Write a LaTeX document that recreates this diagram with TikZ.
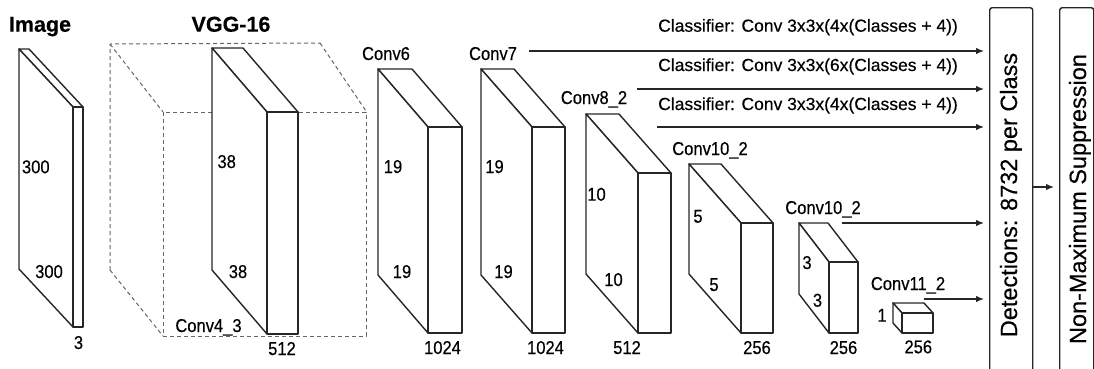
\documentclass[tikz,border=0pt]{standalone}
\usepackage{fontspec}
\setmainfont{Liberation Sans}[FakeBold=0.4]
\newfontfamily\narrowsans[FakeStretch=0.89,FakeBold=0.4]{Liberation Sans}
\usetikzlibrary{arrows.meta}
% cuboid: front x1, x2, top y, bottom y (pixels, downwards), depth dx, dy
\newcommand{\cuboid}[6]{%
  \filldraw[box] ({#1},{-#3}) -- ({#1-#5},{-#3+#6}) -- ({#2-#5},{-#3+#6}) -- ({#2},{-#3}) -- cycle;
  \filldraw[box] ({#1},{-#3}) -- ({#1-#5},{-#3+#6}) -- ({#1-#5},{-#4+#6}) -- ({#1},{-#4}) -- cycle;
  \filldraw[box] ({#1},{-#4}) rectangle ({#2},{-#3});}
\tikzset{
  box/.style={draw=black!85, line width=1.4pt, fill=white, line join=round},
  ghost/.style={draw=black!60, line width=1pt, dash pattern=on 4pt off 3pt},
  lbl/.style={inner sep=0pt, anchor=base, font=\narrowsans\fontsize{18.6}{20}\selectfont},
  ttl/.style={inner sep=0pt, anchor=base, font=\fontsize{21.5}{24}\selectfont\bfseries},
  cls/.style={inner sep=0pt, anchor=base west, font=\fontsize{17.5}{20}\selectfont},
  arr/.style={draw=black!85, line width=1.3pt, -{Latex[length=8pt,width=6.5pt]}, shorten >=5pt},
  panel/.style={draw=black!85, line width=1.4pt, rounded corners=2.5pt, inner sep=0pt, anchor=north west},
  vtxt/.style={rotate=90, inner sep=0pt, anchor=base, font=\fontsize{23.5}{26}\selectfont},
}
\begin{document}
\begin{tikzpicture}[x=1pt,y=1pt]
\useasboundingbox (0,0) rectangle (1094,-368);
\clip (0,0) rectangle (1094,-368);

% titles
\node[ttl] (timage) at (40,-31.7) {Image};
\node[ttl] (tvgg) at (231,-31.7) {VGG-16};

% input image slab
\cuboid{73}{83}{107}{327}{54}{58}

% dashed VGG cube
\draw[ghost] (110,-270) -- (110,-44) -- (320,-43);
\draw[ghost] (110,-44) -- (163,-112);
\draw[ghost] (320,-43) -- (366,-111);
\draw[ghost] (110,-270) -- (163,-336);
\draw[ghost] (163,-112) rectangle (366,-336);

% feature maps
\cuboid{267}{298}{112}{334}{55}{64}
\cuboid{428}{462}{127}{333}{50}{58}
\cuboid{532}{565}{127}{333}{51}{58}
\cuboid{638}{671}{173}{333}{52}{59}
\cuboid{741}{773}{223}{333}{52}{59}
\cuboid{829}{858}{262}{333}{30}{39}
\cuboid{902}{933}{313}{333}{9}{10}

% layer names
\node[lbl] (lc43) at (208.5,-332) {Conv4\_3};
\node[lbl] (lc6) at (386,-60) {Conv6};
\node[lbl] (lc7) at (493,-60) {Conv7};
\node[lbl] (lc82) at (594,-104) {Conv8\_2};
\node[lbl] (lc102a) at (710,-155) {Conv10\_2};
\node[lbl] (lc102b) at (823,-214) {Conv10\_2};
\node[lbl] (lc112) at (908,-290) {Conv11\_2};

% dimension labels
\node[lbl] (n1) at (35.8,-173.3) {300};
\node[lbl] (n2) at (49,-278) {300};
\node[lbl] (n3) at (78.5,-349) {3};
\node[lbl] (n4) at (226.7,-168) {38};
\node[lbl] (n5) at (238,-278) {38};
\node[lbl] (n6) at (282,-355) {512};
\node[lbl] (n7) at (393,-173) {19};
\node[lbl] (n8) at (402,-278) {19};
\node[lbl] (n9) at (442.5,-354) {1024};
\node[lbl] (n10) at (494.5,-173) {19};
\node[lbl] (n11) at (503.5,-278) {19};
\node[lbl] (n12) at (545.5,-354) {1024};
\node[lbl] (n13) at (596.5,-200.7) {10};
\node[lbl] (n14) at (613.5,-286) {10};
\node[lbl] (n15) at (627,-354) {512};
\node[lbl] (n16) at (698,-222.7) {5};
\node[lbl] (n17) at (714,-291) {5};
\node[lbl] (n18) at (757,-354) {256};
\node[lbl] (n19) at (807,-269) {3};
\node[lbl] (n20) at (817.5,-306.7) {3};
\node[lbl] (n21) at (843.5,-354) {256};
\node[lbl] (n22) at (882,-321.7) {1};
\node[lbl] (n23) at (918.3,-353.3) {256};

% classifier texts
\node[cls] (c1) at (658,-31.7) {Classifier: Conv 3x3x(4x(Classes + 4))};
\node[cls] (c2) at (658,-71) {Classifier: Conv 3x3x(6x(Classes + 4))};
\node[cls] (c3) at (658,-110) {Classifier: Conv 3x3x(4x(Classes + 4))};

% output panels
\node[panel, minimum width=43pt, minimum height=380pt] (det) at (989,-7) {};
\node[panel, minimum width=34pt, minimum height=380pt] (nms) at (1059,-7) {};
\node[vtxt] (dettxt) at (1017,-195) {Detections: 8732 per Class};
\node[vtxt] (nmstxt) at (1086,-199) {Non-Maximum Suppression};

% connectors
\coordinate (s1) at (529,-51);
\coordinate (s2) at (637,-89);
\coordinate (s3) at (657,-127);
\coordinate (s4) at (842,-223);
\coordinate (s5) at (924,-299);
\coordinate (s6) at (0,-187);
\draw[arr] (s1) -- (det.west |- s1);
\draw[arr] (s2) -- (det.west |- s2);
\draw[arr] (s3) -- (det.west |- s3);
\draw[arr] (s4) -- (det.west |- s4);
\draw[arr] (s5) -- (det.west |- s5);
\draw[arr] (det.east |- s6) -- (nms.west |- s6);
\end{tikzpicture}
\end{document}
